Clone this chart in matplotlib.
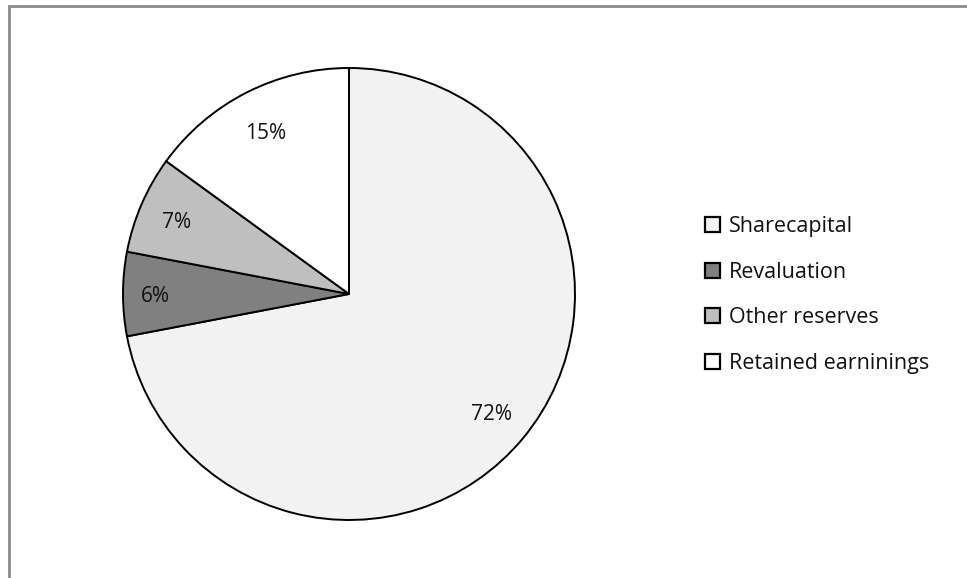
import matplotlib.pyplot as plt
from matplotlib.patches import Rectangle, Patch
import numpy as np

labels = ['Sharecapital', 'Revaluation', 'Other reserves', 'Retained earninings']
shares = [72, 6, 7, 15]
colors = ['#f2f2f2', '#808080', '#bfbfbf', '#ffffff']
# how far out each percentage sits, as a fraction of the radius
label_dist = [0.82, 0.855, 0.83, 0.81]

plt.rcParams['font.family'] = ['Open Sans', 'DejaVu Sans']

fig = plt.figure(figsize=(9.67, 5.78), dpi=100)
W, H = 967, 578

# outer frame of the chart area
fig.patches.append(Rectangle((9 / W, -0.1), 1.2, (578 - 6) / H + 0.1,
                             transform=fig.transFigure, fill=False,
                             edgecolor='#8c8c8c', linewidth=2))

ax = fig.add_axes([123 / W, (H - 520) / H, 452 / W, 452 / H])
wedges, texts = ax.pie(shares, colors=colors, startangle=90, counterclock=False,
                       wedgeprops={'edgecolor': 'black', 'linewidth': 1.4})
ax.set_xlim(-1, 1)
ax.set_ylim(-1, 1)
ax.set_aspect('equal')
ax.axis('off')

for w, v, d in zip(wedges, shares, label_dist):
    ang = np.deg2rad((w.theta1 + w.theta2) / 2)
    ax.text(d * np.cos(ang), d * np.sin(ang) - 0.012, f'{v}%', ha='center', va='center',
            fontsize=15, color='#111111')

handles = [Patch(facecolor=c, edgecolor='black', linewidth=1.6) for c in colors]
fig.legend(handles, labels, loc='center left', bbox_to_anchor=(686 / W, 1 - 295 / H),
           frameon=False, fontsize=15.5, handlelength=0.7, handleheight=0.7,
           handletextpad=0.4, labelspacing=1.15, labelcolor='#111111')

fig.savefig('out.png', dpi=100)
